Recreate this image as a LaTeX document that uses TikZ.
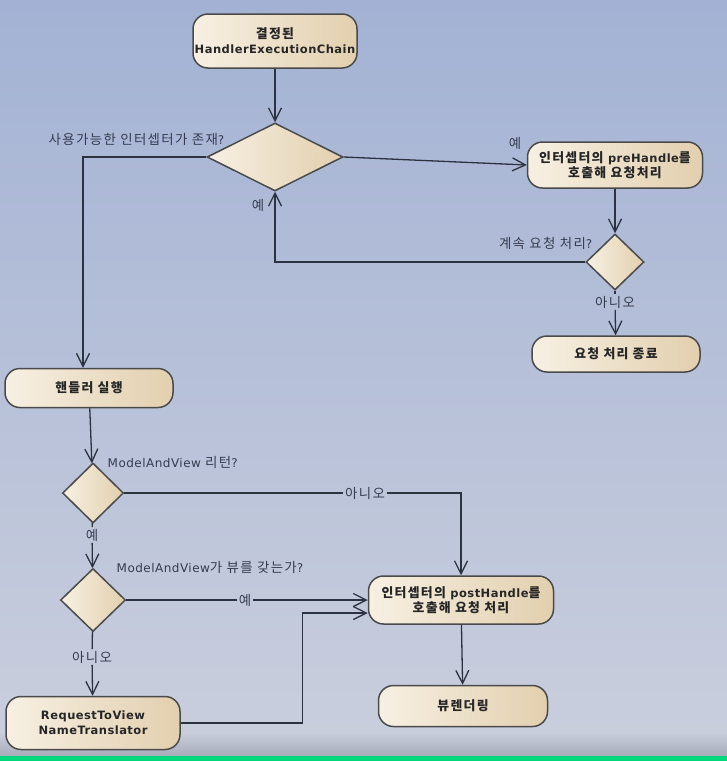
\documentclass[tikz,border=0pt]{standalone}
\usepackage{fontspec}
\setmainfont{DejaVu Sans}[LetterSpace=4]
\newfontfamily\kr{Noto Sans CJK KR}[LetterSpace=10,Scale=1.12]
\usetikzlibrary{arrows.meta, positioning, shapes.geometric}
\definecolor{bgtop}{HTML}{A3B2D4}
\definecolor{bgbot}{HTML}{C9CEDD}
\definecolor{bgstrip}{HTML}{A8ACBA}
\definecolor{barline}{HTML}{00D67A}
\definecolor{boxl}{HTML}{F7F0E3}
\definecolor{boxr}{HTML}{E2CFAE}
\definecolor{boxline}{HTML}{4A4A4A}
\definecolor{wirec}{HTML}{2C3340}
\definecolor{txt}{HTML}{353C50}

\begin{document}
\begin{tikzpicture}[x=1pt,y=-1pt,
  act/.style={draw=boxline,line width=1.5pt,rounded corners=15pt,left color=boxl,
    right color=boxr,font=\fontsize{11.5}{15}\selectfont\bfseries,text=black!85,
    align=center,inner sep=0pt},
  dec/.style={diamond,draw=boxline,line width=1.5pt,left color=boxl,right color=boxr,
    inner sep=0pt},
  lbl/.style={font=\fontsize{12}{14}\selectfont,text=txt,inner sep=1.5pt},
  wire/.style={draw=wirec,line width=1.3pt},
  arr/.style={wire,-{Straight Barb[length=13pt,width=13pt]}}]
  % background
  \useasboundingbox (0,0) rectangle (727,761);
  \shade[top color=bgtop,bottom color=bgbot] (0,0) rectangle (727,732);
  \shade[top color=bgbot,bottom color=bgstrip] (0,732) rectangle (727,756);
  \fill[barline] (0,756) rectangle (727,761);
  % actions and decisions
  \node[act,minimum width=164pt,minimum height=54pt](start) at (275,41)
    {{\kr 결정된}\\HandlerExecutionChain};
  \node[dec,minimum width=136pt,minimum height=68pt](d1) at (275,157) {};
  \node[act,minimum width=175pt,minimum height=46pt](pre) at (615,165)
    {{\kr 인터셉터의} preHandle{\kr 를}\\{\kr 호출해 요청처리}};
  \node[dec,minimum width=58pt,minimum height=56pt](d2) at (615,262) {};
  \node[act,minimum width=168pt,minimum height=36pt](stop) at (616,354) {\kr 요청 처리 종료};
  \node[act,minimum width=168pt,minimum height=39pt](hdl) at (89,388) {\kr 핸들러 실행};
  \node[dec,minimum width=61pt,minimum height=60pt](d3) at (93,493) {};
  \node[dec,minimum width=65pt,minimum height=63pt](d4) at (93,600) {};
  \node[act,minimum width=185pt,minimum height=48pt](post) at (461,600)
    {{\kr 인터셉터의} postHandle{\kr 를}\\{\kr 호출해 요청 처리}};
  \node[act,minimum width=174pt,minimum height=53pt](rtv) at (93,723)
    {RequestToView\\NameTranslator};
  \node[act,minimum width=169pt,minimum height=41pt](view) at (463,706) {\kr 뷰렌더링};
  % questions
  \node[lbl,anchor=east](q1) at (226,139) {{\kr 사용가능한 인터셉터가 존재}?};
  \node[lbl,anchor=east](q2) at (594,243) {{\kr 계속 요청 처리}?};
  \node[lbl,anchor=west](q3) at (106,462) {ModelAndView {\kr 리턴}?};
  \node[lbl,anchor=west](q4) at (115,567) {ModelAndView{\kr 가 뷰를 갖는가}?};
  % guards
  \node[lbl](y1) at (515,143) {\kr 예};
  \node[lbl](y2) at (258,205) {\kr 예};
  \node[lbl](n1) at (615,302) {\kr 아니오};
  \node[lbl](n2) at (365,493) {\kr 아니오};
  \node[lbl](y3) at (92,535) {\kr 예};
  \node[lbl](y4) at (245,600) {\kr 예};
  \node[lbl](n3) at (92,657) {\kr 아니오};
  % flows
  \draw[arr] (start) -- (d1);
  \draw[arr] (d1.west) -| ([xshift=-6pt]hdl.north);
  \draw[arr] (d1.east) -- (pre.west);
  \draw[arr] (pre) -- (d2);
  \draw[arr] (d2.west) -| (d1.south);
  \draw[wire] (d2) -- (n1);
  \draw[arr] (n1) -- (stop);
  \draw[arr] (hdl) -- (d3);
  \draw[wire] (d3.east) -- (n2);
  \draw[arr] (n2.east) -| (post.north);
  \draw[wire] (d3) -- (y3);
  \draw[arr] (y3) -- (d4);
  \draw[wire] (d4.east) -- (y4);
  \draw[arr] (y4) -- (post.west);
  \draw[wire] (d4) -- (n3);
  \draw[arr] (n3) -- (rtv);
  \draw[arr] (rtv.east) -- ++(122,0) |- ([yshift=-13pt]post.west);
  \draw[arr] (post) -- (view);
\end{tikzpicture}
\end{document}
